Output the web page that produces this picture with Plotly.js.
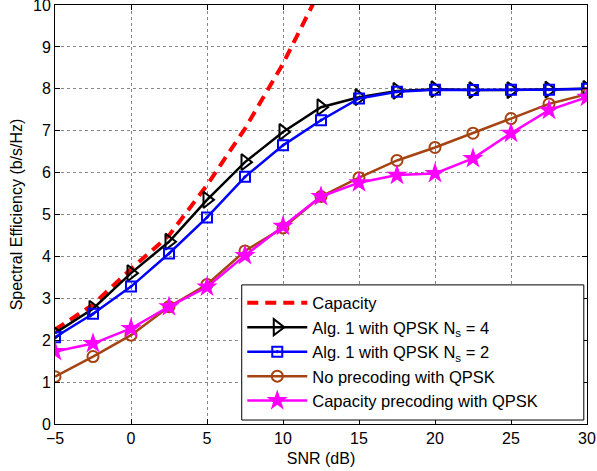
<!DOCTYPE html>
<html><head><meta charset="utf-8">
<script src="https://cdn.plot.ly/plotly-3.0.1.min.js"></script>
<style>body{margin:0;padding:0;background:#fff}#c{width:597px;height:471px}</style>
</head><body><div id="c"></div>
<script>
var snr = [-5, -2.5, 0, 2.5, 5, 7.5, 10, 12.5, 15, 17.5, 20, 22.5, 25, 27.5, 30];
var capSnr = [-5, -2.5, 0, 2.5, 5, 7.5, 10, 12.5];
var capacity = [2.25, 2.85, 3.7, 4.5, 5.7, 7.05, 8.6, 10.4];
var alg1Ns4 = [2.17, 2.75, 3.6, 4.35, 5.35, 6.25, 6.97, 7.56, 7.8, 7.95, 7.99, 7.97, 7.97, 7.98, 8.0];
var alg1Ns2 = [2.07, 2.63, 3.28, 4.07, 4.93, 5.9, 6.65, 7.25, 7.77, 7.93, 7.98, 7.97, 7.98, 7.98, 8.0];
var noPrec = [1.13, 1.61, 2.12, 2.8, 3.33, 4.13, 4.68, 5.43, 5.88, 6.29, 6.6, 6.94, 7.29, 7.64, 7.87];
var capPrec = [1.73, 1.92, 2.28, 2.8, 3.27, 4.02, 4.72, 5.43, 5.76, 5.94, 5.98, 6.34, 6.94, 7.49, 7.8];
var xTicks = [-5, 0, 5, 10, 15, 20, 25, 30];
var xTickText = ['\u22125', '0', '5', '10', '15', '20', '25', '30'];
var yTicks = [0, 1, 2, 3, 4, 5, 6, 7, 8, 9, 10];
var names = ['Capacity', 'Alg. 1 with QPSK N<sub>s</sub> = 4', 'Alg. 1 with QPSK N<sub>s</sub> = 2', 'No precoding with QPSK', 'Capacity precoding with QPSK'];
var brown = 'rgb(165,68,18)';
var traces = [
 {x: capSnr, y: capacity, name: names[0], mode: 'lines', line: {color: '#ff0000', width: 4, dash: '11px,7px'}},
 {x: snr, y: alg1Ns4, name: names[1], mode: 'lines+markers', line: {color: '#000', width: 2.5},
  marker: {symbol: 'triangle-right-open', size: 14, color: '#000', line: {width: 2}}},
 {x: snr, y: alg1Ns2, name: names[2], mode: 'lines+markers', line: {color: '#0000ff', width: 2.5},
  marker: {symbol: 'square-open-dot', size: 10, color: '#0000ff', line: {width: 2}}},
 {x: snr, y: noPrec, name: names[3], mode: 'lines+markers', line: {color: brown, width: 2.5},
  marker: {symbol: 'circle-open', size: 11, color: brown, line: {width: 2}}},
 {x: snr, y: capPrec, name: names[4], mode: 'lines+markers', line: {color: '#ff00ff', width: 2.5},
  marker: {symbol: 'star', size: 16, color: '#ff00ff', line: {width: 0}}}
];
var ax = {
  showline: true, linecolor: '#000', linewidth: 1, mirror: 'ticks',
  ticks: 'inside', ticklen: 5, tickcolor: '#000',
  showgrid: true, gridcolor: '#888', griddash: 'dot', gridwidth: 1,
  zeroline: false, tickfont: {size: 16, color: '#000'}, ticklabeloverflow: 'allow'
};
var layout = {
  width: 597, height: 471,
  margin: {l: 55, r: 10, t: 5, b: 47},
  paper_bgcolor: '#fff', plot_bgcolor: '#fff',
  font: {family: 'Liberation Sans, Arial, sans-serif', color: '#000'},
  xaxis: Object.assign({}, ax, {range: [-5, 30], tickmode: 'array', tickvals: xTicks, ticktext: xTickText,
    title: {text: 'SNR (dB)', font: {size: 16}, standoff: 6}}),
  yaxis: Object.assign({}, ax, {range: [0, 10], tickmode: 'array', tickvals: yTicks,
    title: {text: 'Spectral Efficiency (b/s/Hz)', font: {size: 16}, standoff: 6}}),
  legend: {x: 0.352, y: 0.013, xanchor: 'left', yanchor: 'bottom', borderwidth: 0,
    bgcolor: 'rgba(0,0,0,0)', font: {size: 16.5}, itemwidth: 60, tracegroupgap: 0},
  shapes: [{type: 'rect', xref: 'paper', yref: 'paper', x0: 0.351, x1: 0.994, y0: 0.0095, y1: 0.332,
    line: {color: '#000', width: 1}, fillcolor: '#fff', layer: 'above'}],
  showlegend: true
};
Plotly.newPlot('c', traces, layout, {staticPlot: true});
</script></body></html>
